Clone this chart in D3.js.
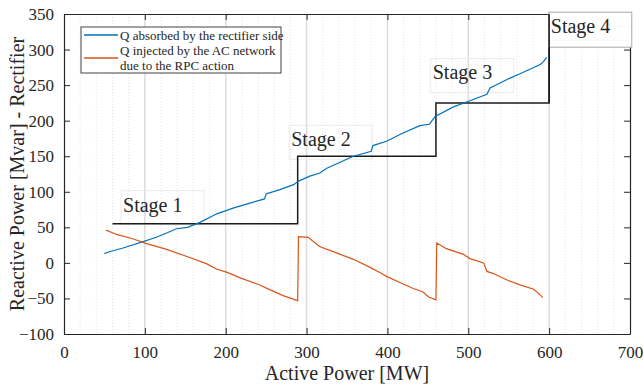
<!DOCTYPE html>
<html>
<head>
<meta charset="utf-8">
<script src="https://cdn.jsdelivr.net/npm/d3@7"></script>
<style>
  body { margin: 0; background: #fff; }
  svg text { font-family: "Liberation Serif", serif; fill: #262626; }
</style>
</head>
<body>
<div id="chart"></div>
<script>
// Q absorbed by the rectifier side
var absP = [50, 57, 73, 98, 114, 127, 139, 153, 168, 189, 209, 230, 248, 250, 253, 267, 284, 290, 304, 316, 325, 358, 380, 382, 399, 416, 440, 452, 459, 481, 502, 523, 527, 548, 564, 589, 593, 597]
var absQ = [13, 16, 21, 30, 36, 42, 48, 50, 57, 69, 77, 84, 90, 97, 98, 103, 110, 115, 122, 126, 133, 150, 157, 165, 171, 181, 193, 195, 206, 219, 228, 237, 246, 258, 266, 279, 283, 289]

// Q injected by the AC network due to the RPC action
var injP = [52, 65, 85, 102, 127, 152, 176, 189, 201, 218, 242, 255, 271, 289, 290, 302, 316, 337, 358, 378, 391, 399, 416, 432, 444, 451, 460, 461, 473, 494, 502, 519, 523, 531, 548, 564, 581, 589, 592]
var injQ = [46, 40, 34, 27, 19, 9, -1, -9, -13, -21, -31, -38, -46, -53, 37, 36, 23, 14, 5, -6, -14, -19, -28, -36, -41, -48, -52, 28, 20, 12, 6, 0, -12, -15, -24, -31, -37, -45, -49]

// RPC stages (black staircase)
var stageP = [60, 289, 289, 460, 460, 600, 600]
var stageQ = [55, 55, 150, 150, 225, 225, 350]

var stageNames = ["Stage 1", "Stage 2", "Stage 3", "Stage 4"]
var stageLabelP = [73, 281, 456, 602]
var stageLabelQ = [72, 164, 258, 323]

var xTicks = [0, 100, 200, 300, 400, 500, 600, 700]
var yTicks = [-100, -50, 0, 50, 100, 150, 200, 250, 300, 350]
var legendNames = ["Q absorbed by the rectifier side", "Q injected by the AC network", "due to the RPC action"]

var margin = { top: 14, right: 14, bottom: 53, left: 64 }
var width = 644 - margin.left - margin.right,
    height = 387 - margin.top - margin.bottom

var svg = d3.select("#chart").append("svg")
    .attr("width", 644)
    .attr("height", 387)
    .style("font-family", "Liberation Serif, serif")
    .append("g")
    .attr("transform", "translate(" + margin.left + "," + margin.top + ")")

var x = d3.scaleLinear().domain([0, 700]).range([0, width])
var y = d3.scaleLinear().domain([-100, 350]).range([height, 0])

// minor grid every 20 MW
svg.append("g").selectAll("line")
  .data(d3.range(20, 700, 20).filter(function(d) { return d % 100 != 0 }))
  .enter().append("line")
  .attr("x1", function(d) { return x(d) }).attr("x2", function(d) { return x(d) })
  .attr("y1", 0).attr("y2", height)
  .attr("stroke", "#e4e4e4").attr("stroke-dasharray", "1,2")

// major grid
svg.append("g").selectAll("line")
  .data(xTicks.slice(1, -1))
  .enter().append("line")
  .attr("x1", function(d) { return x(d) }).attr("x2", function(d) { return x(d) })
  .attr("y1", 0).attr("y2", height)
  .attr("stroke", "#dcdcdc").attr("stroke-width", 1.5)

// stage labels 1-3: transparent boxes with faint edges
var labels = stageNames.map(function(name, i) {
  var g = svg.append("g")
    .attr("transform", "translate(" + x(stageLabelP[i]) + "," + y(stageLabelQ[i]) + ")")
  var t = g.append("text").attr("font-size", 20).text(name)
  var bb = t.node().getBBox()
  return { g: g, bx: bb.x - 2 }
})
labels.slice(0, 3).forEach(function(l) {
  l.g.insert("rect", "text")
    .attr("x", l.bx).attr("y", -21).attr("width", 83).attr("height", 34)
    .attr("fill", "none").attr("stroke", "#ebebeb")
})

var line = d3.line()
  .x(function(d) { return x(d[0]) })
  .y(function(d) { return y(d[1]) })

svg.append("path")
  .datum(d3.zip(stageP, stageQ))
  .attr("d", line)
  .attr("fill", "none").attr("stroke", "#1a1a1a").attr("stroke-width", 1.5)

svg.append("path")
  .datum(d3.zip(absP, absQ))
  .attr("d", line)
  .attr("fill", "none").attr("stroke", "#0072BD").attr("stroke-width", 1.2)

svg.append("path")
  .datum(d3.zip(injP, injQ))
  .attr("d", line)
  .attr("fill", "none").attr("stroke", "#D95319").attr("stroke-width", 1.2)

// axes, ticks pointing inward
svg.append("g").attr("transform", "translate(0," + height + ")")
  .call(d3.axisBottom(x).tickValues(xTicks).tickSizeInner(-6).tickSizeOuter(0).tickPadding(12))
svg.append("g")
  .call(d3.axisTop(x).tickValues(xTicks).tickSizeInner(-6).tickSizeOuter(0).tickFormat(""))
svg.append("g")
  .call(d3.axisLeft(y).tickValues(yTicks).tickSizeInner(-6).tickSizeOuter(0).tickPadding(10))
svg.append("g").attr("transform", "translate(" + width + ",0)")
  .call(d3.axisRight(y).tickValues(yTicks).tickSizeInner(-6).tickSizeOuter(0).tickFormat(""))

svg.selectAll(".domain").attr("stroke", "#262626").attr("stroke-width", 1.2)
svg.selectAll(".tick line").attr("stroke", "#262626")
svg.selectAll(".tick text").attr("font-size", 17).attr("font-family", "Liberation Serif, serif").attr("fill", "#262626")

// stage 4 box sits over the frame corner
var s4 = labels[3]
s4.g.raise()
s4.g.insert("rect", "text")
  .attr("x", s4.bx).attr("y", -21).attr("width", 83).attr("height", 35)
  .attr("fill", "#fff").attr("stroke", "#a8a8a8")
s4.g.insert("g", "text").selectAll("line")
  .data([-7, 7])
  .enter().append("line")
  .attr("x1", s4.bx + 1).attr("x2", s4.bx + 82)
  .attr("y1", function(d) { return d }).attr("y2", function(d) { return d })
  .attr("stroke", "#e8e8e8").attr("stroke-dasharray", "1,2")
svg.append("line")
  .attr("x1", x(600)).attr("x2", x(600)).attr("y1", 0).attr("y2", y(225))
  .attr("stroke", "#1a1a1a").attr("stroke-width", 1.5)

// legend
var legend = svg.append("g").attr("transform", "translate(17,13)")
legend.append("rect")
  .attr("width", 200).attr("height", 46)
  .attr("fill", "#fff").attr("stroke", "#444").attr("stroke-width", 1)
legend.append("line").attr("x1", 3).attr("x2", 37).attr("y1", 8).attr("y2", 8)
  .attr("stroke", "#0072BD").attr("stroke-width", 1.5)
legend.append("line").attr("x1", 3).attr("x2", 37).attr("y1", 31).attr("y2", 31)
  .attr("stroke", "#D95319").attr("stroke-width", 1.5)
legend.selectAll(".lt")
  .data(legendNames)
  .enter().append("text")
  .attr("x", 39)
  .attr("y", function(d, i) { return 12.5 + i * 15 })
  .attr("font-size", 13)
  .text(function(d) { return d })

// axis titles
svg.append("text")
  .attr("x", width / 2).attr("y", height + 46)
  .attr("text-anchor", "middle").attr("font-size", 20)
  .text("Active Power [MW]")

svg.append("text")
  .attr("transform", "translate(-40," + height / 2 + ") rotate(-90)")
  .attr("text-anchor", "middle").attr("font-size", 20)
  .text("Reactive Power [Mvar] - Rectifier")
</script>
</body>
</html>
